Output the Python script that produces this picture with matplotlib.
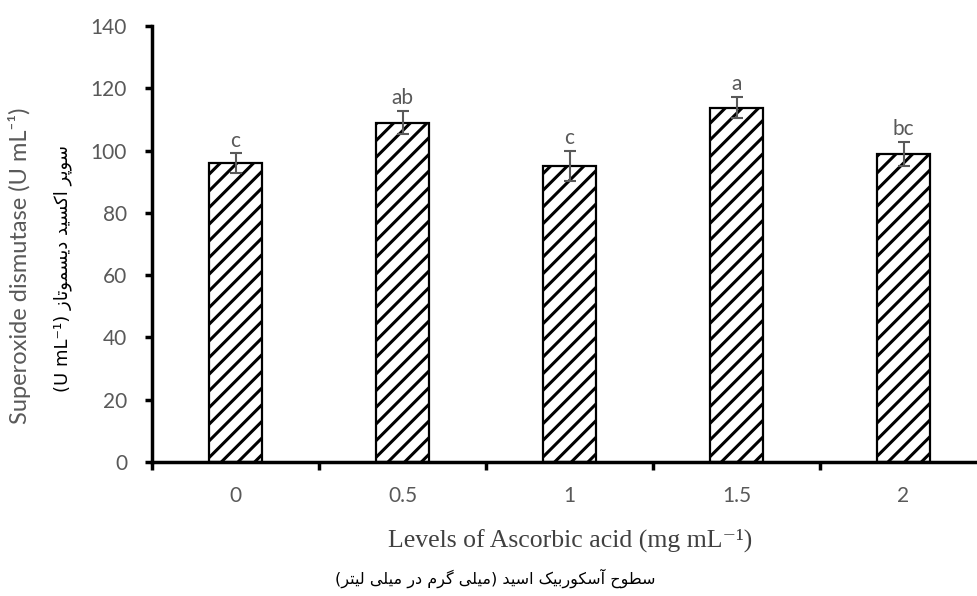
import matplotlib
matplotlib.use("Agg")
import matplotlib.pyplot as plt
import numpy as np

# data
levels = ["0", "0.5", "1", "1.5", "2"]
sod = [96, 109, 95, 113.8, 99]
sod_err = [3.1, 3.7, 4.8, 3.5, 3.9]
letters = ["c", "ab", "c", "a", "bc"]

ylabel_en = "Superoxide dismutase (U mL\u207b\u00b9)"
ylabel_fa = "سوپر اکسید دیسموتاز"
xlabel_en = "Levels of Ascorbic acid (mg mL\u207b\u00b9)"
xlabel_fa = "سطوح آسکوربیک اسید (میلی گرم در میلی لیتر)"

# minimal persian shaping: (isolated, final, initial, medial)
FORMS = {
    "ا": (0xFE8D, 0xFE8E, None, None),
    "آ": (0xFE81, 0xFE82, None, None),
    "ب": (0xFE8F, 0xFE90, 0xFE91, 0xFE92),
    "پ": (0xFB56, 0xFB57, 0xFB58, 0xFB59),
    "ت": (0xFE95, 0xFE96, 0xFE97, 0xFE98),
    "ح": (0xFEA1, 0xFEA2, 0xFEA3, 0xFEA4),
    "د": (0xFEA9, 0xFEAA, None, None),
    "ر": (0xFEAD, 0xFEAE, None, None),
    "ز": (0xFEAF, 0xFEB0, None, None),
    "س": (0xFEB1, 0xFEB2, 0xFEB3, 0xFEB4),
    "ط": (0xFEC1, 0xFEC2, 0xFEC3, 0xFEC4),
    "ک": (0xFB8E, 0xFB8F, 0xFB90, 0xFB91),
    "گ": (0xFB92, 0xFB93, 0xFB94, 0xFB95),
    "ل": (0xFEDD, 0xFEDE, 0xFEDF, 0xFEE0),
    "م": (0xFEE1, 0xFEE2, 0xFEE3, 0xFEE4),
    "و": (0xFEED, 0xFEEE, None, None),
    "ی": (0xFBFC, 0xFBFD, 0xFBFE, 0xFBFF),
}


def rtl(text):
    out = []
    for i, ch in enumerate(text):
        if ch not in FORMS:
            out.append(ch)
            continue
        prev = text[i - 1] if i > 0 else ""
        nxt = text[i + 1] if i + 1 < len(text) else ""
        jp = prev in FORMS and FORMS[prev][2] is not None
        jn = nxt in FORMS and FORMS[ch][2] is not None
        iso, fin, ini, med = FORMS[ch]
        if jp and jn:
            out.append(chr(med))
        elif jp:
            out.append(chr(fin))
        elif jn:
            out.append(chr(ini))
        else:
            out.append(chr(iso))
    swap = {"(": ")", ")": "("}
    return "".join(swap.get(c, c) for c in reversed(out))


plt.rcParams["hatch.linewidth"] = 2.2
grey = "#595959"
sans = ["Lato", "DejaVu Sans"]

fig = plt.figure(figsize=(9.78, 5.96), dpi=100)
ax = fig.add_axes([152 / 978, 134 / 596, 835 / 978, 436 / 596])

x = np.arange(len(levels))
ax.bar(x, sod, width=0.32, color="white", edgecolor="black",
       linewidth=1.6, hatch="//", zorder=2)
ax.errorbar(x, sod, yerr=sod_err, fmt="none", ecolor=grey,
            elinewidth=1.5, capsize=4, capthick=1.5, zorder=3)
for xi, v, e, t in zip(x, sod, sod_err, letters):
    ax.annotate(t, (xi, v + e), xytext=(0, 2), textcoords="offset points",
                ha="center", va="bottom", fontsize=15, color=grey,
                family=sans)

ax.set_xlim(-0.5, 4.5)
ax.set_ylim(0, 140)
ax.set_yticks(np.arange(0, 141, 20))
ax.set_xticks(x)
ax.set_xticklabels(levels)
ax.set_xticks(np.arange(-0.5, 4.6, 1), minor=True)

for side in ["top", "right"]:
    ax.spines[side].set_visible(False)
for side in ["left", "bottom"]:
    ax.spines[side].set_linewidth(2.5)

ax.tick_params(axis="y", direction="out", length=5, width=2.5,
               pad=13, labelsize=15, labelcolor=grey)
ax.tick_params(axis="x", which="major", length=0, pad=17,
               labelsize=15, labelcolor=grey)
ax.tick_params(axis="x", which="minor", direction="out", length=6,
               width=2.5)
for lab in ax.get_xticklabels() + ax.get_yticklabels():
    lab.set_family(sans)

fig.text(20 / 978, 1 - 266 / 596, ylabel_en, rotation=90, ha="center",
         va="center", fontsize=17, color=grey, family=sans)
fig.text(63 / 978, 1 - 268 / 596, "(U mL\u207b\u00b9) " + rtl(ylabel_fa),
         rotation=90, ha="center", va="center", fontsize=13, color="black",
         family=["DejaVu Sans"])
fig.text(570 / 978, 1 - 540 / 596, xlabel_en, ha="center", va="center",
         fontsize=18.5, color="#404040",
         family=["Liberation Serif", "DejaVu Serif"])
fig.text(495 / 978, 1 - 578 / 596, rtl(xlabel_fa), ha="center",
         va="center", fontsize=11.5, color="black", family=["DejaVu Sans"])

fig.savefig("out.png", dpi=100)
